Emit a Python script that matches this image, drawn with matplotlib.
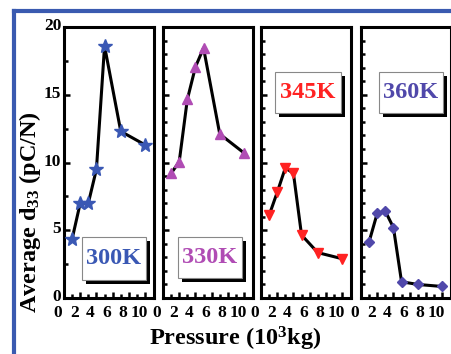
import matplotlib
matplotlib.use("Agg")
import matplotlib.pyplot as plt
from matplotlib.patches import Rectangle
from matplotlib.lines import Line2D
from matplotlib.transforms import ScaledTranslation

# pressure (10^3 kg)
pressure = [1, 2, 3, 4, 5, 7, 10]

# average d33 (pC/N) at each temperature
d33_300 = [4.35, 7.0, 7.0, 9.5, 18.6, 12.3, 11.3]
d33_330 = [9.2, 10.05, 14.65, 17.05, 18.45, 12.1, 10.7]
d33_345 = [6.1, 7.8, 9.6, 9.2, 4.65, 3.35, 2.9]
d33_360 = [4.15, 6.25, 6.4, 5.2, 1.2, 1.0, 0.85]

temps = ["300K", "330K", "345K", "360K"]
series = [d33_300, d33_330, d33_345, d33_360]
colors = ["#3a58b4", "#b04cb4", "#ff2222", "#5048aa"]
markers = ["*", "^", "v", "D"]
msizes = [10, 7.5, 7.5, 5]

plt.rcParams['font.family'] = ['Liberation Serif', 'DejaVu Serif']
plt.rcParams['font.weight'] = 'bold'
plt.rcParams['mathtext.default'] = 'regular'

fig = plt.figure(figsize=(4.52, 3.54), dpi=100)
W, H = 452.0, 354.0

lefts = [64, 163, 261, 361]
# label boxes: (x0, x1, y0, y1) in axes fraction
boxes = [(0.20, 0.91, 0.066, 0.225),
         (0.165, 0.88, 0.074, 0.225),
         (0.155, 0.89, 0.683, 0.834),
         (0.198, 0.91, 0.683, 0.834)]

xshift = ScaledTranslation(-6 / 100, 0, fig.dpi_scale_trans)
yshift = ScaledTranslation(0, 3 / 100, fig.dpi_scale_trans)

for i in range(4):
    ax = fig.add_axes([lefts[i] / W, (H - 298) / H, 90 / W, 271 / H])
    ax.plot(pressure, series[i], color="black", lw=2.2, zorder=2)
    ax.plot(pressure, series[i], ls="none", marker=markers[i], ms=msizes[i],
            color=colors[i], mec=colors[i], zorder=3)
    ax.set_xlim(0, 11.1)
    ax.set_ylim(0, 20)
    ax.set_xticks([0, 2, 4, 6, 8, 10])
    ax.set_xticks(range(0, 11), minor=True)
    ax.set_yticks([0, 5, 10, 15, 20])
    if i == 0:
        ax.set_yticks([2.5, 7.5, 12.5, 17.5], minor=True)
    else:
        ax.set_yticks(range(0, 21), minor=True)
        ax.set_yticklabels([])
    ax.tick_params(direction="in", which="both", top=False, right=False,
                   labelsize=12.5, width=1.8, pad=2)
    ax.tick_params(axis="x", which="major", pad=5)
    ax.tick_params(which="major", length=4)
    ax.tick_params(which="minor", length=3)
    for s in ax.spines.values():
        s.set_linewidth(2.2)
    for lab in ax.get_xticklabels():
        lab.set_fontweight("bold")
        lab.set_transform(lab.get_transform() + xshift)
    for lab in ax.get_yticklabels():
        lab.set_fontweight("bold")
        lab.set_transform(lab.get_transform() + yshift)

    x0, x1, y0, y1 = boxes[i]
    ax.add_patch(Rectangle((x0 + 0.045, y0 - 0.015), x1 - x0, y1 - y0,
                           transform=ax.transAxes, facecolor="black",
                           edgecolor="none", zorder=4))
    ax.add_patch(Rectangle((x0, y0), x1 - x0, y1 - y0,
                           transform=ax.transAxes, facecolor="white",
                           edgecolor="#888888", lw=0.8, zorder=5))
    ax.text((x0 + x1) / 2, (y0 + y1) / 2, temps[i], transform=ax.transAxes,
            ha="center", va="center", fontsize=17.5, fontweight="bold",
            color=colors[i], zorder=6)

fig.text(30 / W, 1 - 212 / H, "Average d$_{33}$ (pC/N)", rotation=90,
         ha="center", va="center", fontsize=17.5, fontweight="bold")
fig.text(235 / W, 1 - 339 / H, "Pressure (10$^{3}$kg)",
         ha="center", va="center", fontsize=17.5, fontweight="bold")

# blue frame at left and top
blue = "#3a5ab0"
fig.add_artist(Line2D([14 / W, 14 / W], [0, 1 - 11 / H], color=blue, lw=3,
                      transform=fig.transFigure))
fig.add_artist(Line2D([14 / W, 1], [1 - 11 / H, 1 - 11 / H], color=blue, lw=3,
                      transform=fig.transFigure))

fig.savefig("out.png", dpi=100)
